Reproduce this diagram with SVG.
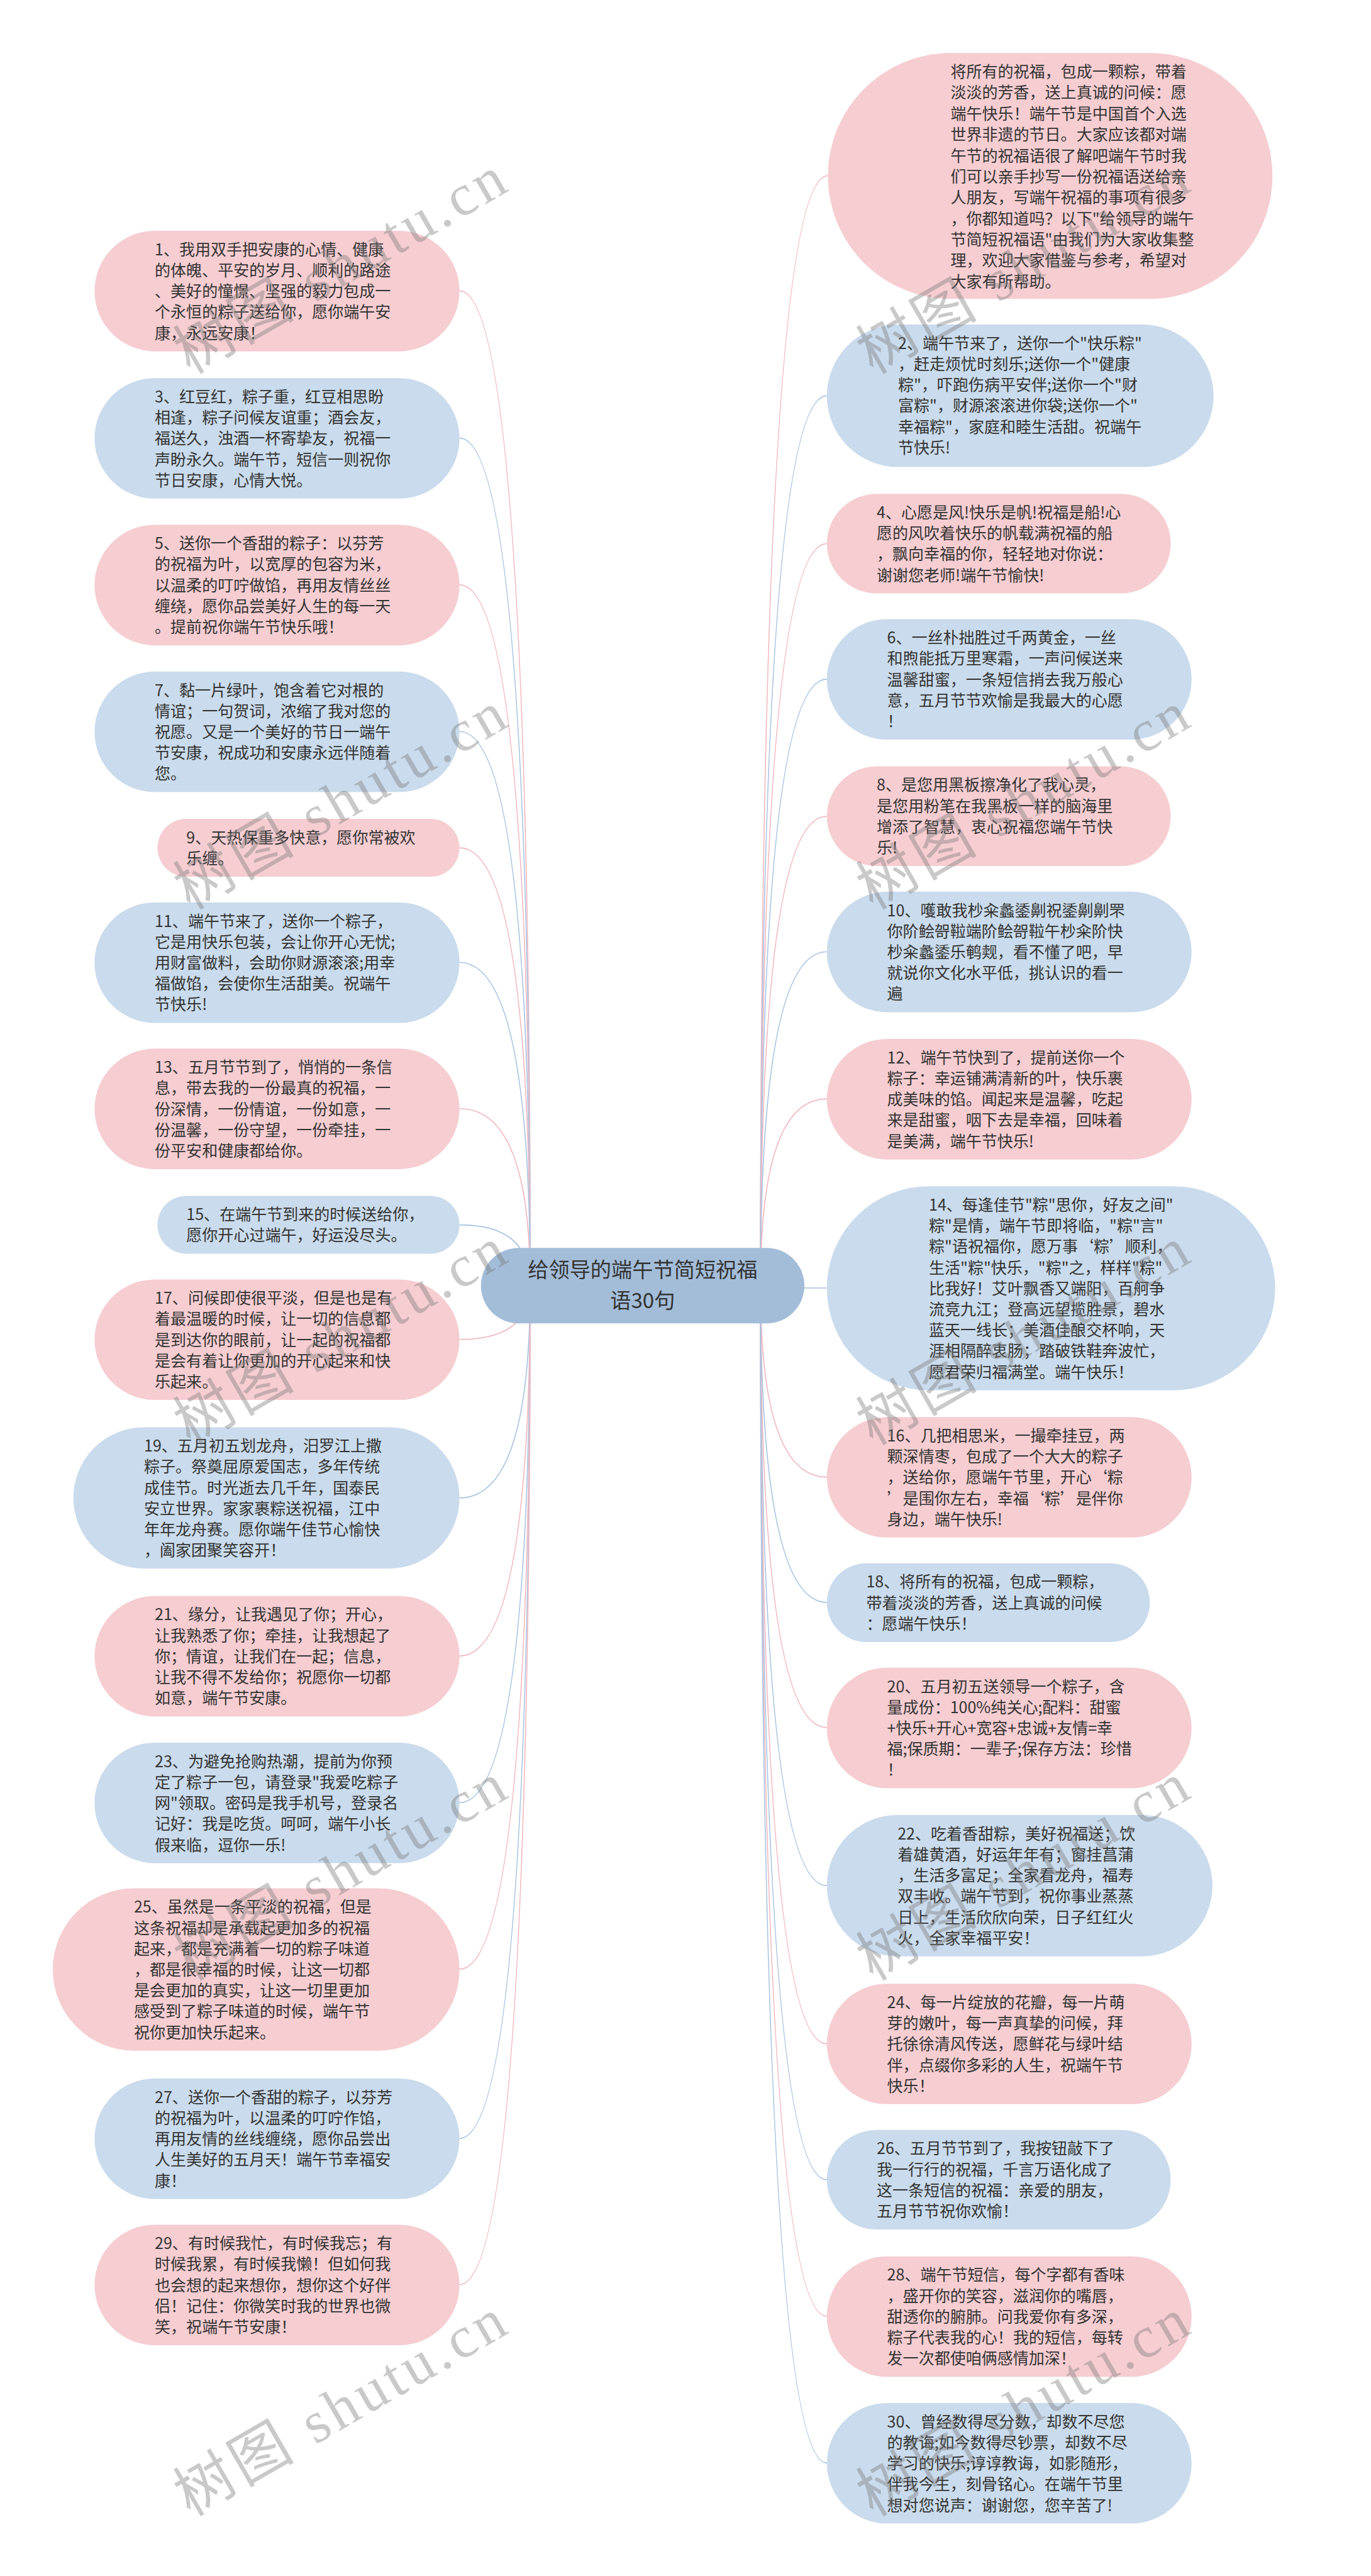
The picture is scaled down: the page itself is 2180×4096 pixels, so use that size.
<svg xmlns="http://www.w3.org/2000/svg" width="2180" height="4096" viewBox="0 0 2180 4096">
<style>
.p{fill:#f6cdd1}
.b{fill:#c9dbec}
.t{font-family:"Noto Sans CJK SC","Noto Sans",sans-serif;font-size:29.4px;fill:#333}
.c{font-family:"Noto Sans CJK SC","Noto Sans",sans-serif;font-size:39px;fill:#333;text-anchor:middle}
.cp{fill:none;stroke:#f1b9c0;stroke-width:2}
.cb{fill:none;stroke:#a9c4e2;stroke-width:2}
.wm{font-family:"Liberation Serif","Noto Sans CJK SC",serif;font-size:110px;fill:#7a7a7a;opacity:0.4}
</style>
<rect width="2180" height="4096" fill="#fff"/>
<g transform="scale(0.8515625)">
<g id="connectors">
<path class="cp" d="M990 2400 Q990 543 858 543"/>
<path class="cb" d="M990 2400 Q990 818 858 818"/>
<path class="cp" d="M990 2400 Q990 1092 858 1092"/>
<path class="cb" d="M990 2400 Q990 1366 858 1366"/>
<path class="cp" d="M990 2400 Q990 1583 858 1583"/>
<path class="cb" d="M990 2400 Q990 1797 858 1797"/>
<path class="cp" d="M990 2400 Q990 2070 858 2070"/>
<path class="cb" d="M990 2400 Q990 2287 858 2287"/>
<path class="cp" d="M990 2400 Q990 2501 858 2501"/>
<path class="cb" d="M990 2400 Q990 2797 858 2797"/>
<path class="cp" d="M990 2400 Q990 3092 858 3092"/>
<path class="cb" d="M990 2400 Q990 3366 858 3366"/>
<path class="cp" d="M990 2400 Q990 3677 858 3677"/>
<path class="cb" d="M990 2400 Q990 3993 858 3993"/>
<path class="cp" d="M990 2400 Q990 4266 858 4266"/>
<path class="cp" d="M1420 2400 Q1420 328 1546 328"/>
<path class="cb" d="M1420 2400 Q1420 739 1544 739"/>
<path class="cp" d="M1420 2400 Q1420 1015 1544 1015"/>
<path class="cb" d="M1420 2400 Q1420 1268 1544 1268"/>
<path class="cp" d="M1420 2400 Q1420 1524 1544 1524"/>
<path class="cb" d="M1420 2400 Q1420 1777 1544 1777"/>
<path class="cp" d="M1420 2400 Q1420 2052 1544 2052"/>
<path class="cb" d="M1420 2400 Q1420 2405 1544 2405"/>
<path class="cp" d="M1420 2400 Q1420 2758 1544 2758"/>
<path class="cb" d="M1420 2400 Q1420 2992 1544 2992"/>
<path class="cp" d="M1420 2400 Q1420 3226 1544 3226"/>
<path class="cb" d="M1420 2400 Q1420 3521 1544 3521"/>
<path class="cp" d="M1420 2400 Q1420 3816 1544 3816"/>
<path class="cb" d="M1420 2400 Q1420 4070 1544 4070"/>
<path class="cp" d="M1420 2400 Q1420 4325 1544 4325"/>
<path class="cb" d="M1420 2400 Q1420 4599 1544 4599"/>
</g>
<g id="root">
<rect x="898" y="2330" width="604" height="141" rx="70.5" fill="#a3bdd9"/>
<text class="c" x="1200" y="2385"><tspan x="1200">给领导的端午节简短祝福</tspan><tspan x="1200" dy="58">语30句</tspan></text>
</g>
<g id="intro">
<rect class="p" x="1546" y="99" width="830" height="459" rx="229.5"/>
<text class="t" x="1775" y="144.5"><tspan x="1775">将所有的祝福，包成一颗粽，带着</tspan><tspan x="1775" dy="39.2">淡淡的芳香，送上真诚的问候：愿</tspan><tspan x="1775" dy="39.2">端午快乐！端午节是中国首个入选</tspan><tspan x="1775" dy="39.2">世界非遗的节日。大家应该都对端</tspan><tspan x="1775" dy="39.2">午节的祝福语很了解吧端午节时我</tspan><tspan x="1775" dy="39.2">们可以亲手抄写一份祝福语送给亲</tspan><tspan x="1775" dy="39.2">人朋友，写端午祝福的事项有很多</tspan><tspan x="1775" dy="39.2">，你都知道吗？以下"给领导的端午</tspan><tspan x="1775" dy="39.2">节简短祝福语"由我们为大家收集整</tspan><tspan x="1775" dy="39.2">理，欢迎大家借鉴与参考，希望对</tspan><tspan x="1775" dy="39.2">大家有所帮助。</tspan></text>
</g>
<g id="n1">
<rect class="p" x="176.5" y="431" width="681.5" height="225" rx="112.5"/>
<text class="t" y="476.5"><tspan x="289">1、我用双手把安康的心情、健康</tspan><tspan x="289" dy="39">的体魄、平安的岁月、顺利的路途</tspan><tspan x="289" dy="39">、美好的憧憬、坚强的毅力包成一</tspan><tspan x="289" dy="39">个永恒的粽子送给你，愿你端午安</tspan><tspan x="289" dy="39">康，永远安康！</tspan></text>
</g>
<g id="n3">
<rect class="b" x="176.5" y="706" width="681.5" height="225" rx="112.5"/>
<text class="t" y="751.5"><tspan x="289">3、红豆红，粽子重，红豆相思盼</tspan><tspan x="289" dy="39">相逢，粽子问候友谊重；酒会友，</tspan><tspan x="289" dy="39">福送久，浊酒一杯寄挚友，祝福一</tspan><tspan x="289" dy="39">声盼永久。端午节，短信一则祝你</tspan><tspan x="289" dy="39">节日安康，心情大悦。</tspan></text>
</g>
<g id="n5">
<rect class="p" x="176.5" y="980" width="681.5" height="225" rx="112.5"/>
<text class="t" y="1025.5"><tspan x="289">5、送你一个香甜的粽子：以芬芳</tspan><tspan x="289" dy="39">的祝福为叶，以宽厚的包容为米，</tspan><tspan x="289" dy="39">以温柔的叮咛做馅，再用友情丝丝</tspan><tspan x="289" dy="39">缠绕，愿你品尝美好人生的每一天</tspan><tspan x="289" dy="39">。提前祝你端午节快乐哦！</tspan></text>
</g>
<g id="n7">
<rect class="b" x="176.5" y="1254" width="681.5" height="225" rx="112.5"/>
<text class="t" y="1299.5"><tspan x="289">7、黏一片绿叶，饱含着它对根的</tspan><tspan x="289" dy="39">情谊；一句贺词，浓缩了我对您的</tspan><tspan x="289" dy="39">祝愿。又是一个美好的节日一端午</tspan><tspan x="289" dy="39">节安康，祝成功和安康永远伴随着</tspan><tspan x="289" dy="39">您。</tspan></text>
</g>
<g id="n9">
<rect class="p" x="294" y="1529" width="564" height="108" rx="54"/>
<text class="t" y="1574.5"><tspan x="348">9、天热保重多快意，愿你常被欢</tspan><tspan x="348" dy="39">乐缠。</tspan></text>
</g>
<g id="n11">
<rect class="b" x="176.5" y="1685" width="681.5" height="225" rx="112.5"/>
<text class="t" y="1730.5"><tspan x="289">11、端午节来了，送你一个粽子，</tspan><tspan x="289" dy="39">它是用快乐包装，会让你开心无忧;</tspan><tspan x="289" dy="39">用财富做料，会助你财源滚滚;用幸</tspan><tspan x="289" dy="39">福做馅，会使你生活甜美。祝端午</tspan><tspan x="289" dy="39">节快乐!</tspan></text>
</g>
<g id="n13">
<rect class="p" x="176.5" y="1958" width="681.5" height="225" rx="112.5"/>
<text class="t" y="2003.5"><tspan x="289">13、五月节节到了，悄悄的一条信</tspan><tspan x="289" dy="39">息，带去我的一份最真的祝福，一</tspan><tspan x="289" dy="39">份深情，一份情谊，一份如意，一</tspan><tspan x="289" dy="39">份温馨，一份守望，一份牵挂，一</tspan><tspan x="289" dy="39">份平安和健康都给你。</tspan></text>
</g>
<g id="n15">
<rect class="b" x="294" y="2233" width="564" height="108" rx="54"/>
<text class="t" y="2278.5"><tspan x="348">15、在端午节到来的时候送给你，</tspan><tspan x="348" dy="39">愿你开心过端午，好运没尽头。</tspan></text>
</g>
<g id="n17">
<rect class="p" x="176.5" y="2389" width="681.5" height="225" rx="112.5"/>
<text class="t" y="2434.5"><tspan x="289">17、问候即使很平淡，但是也是有</tspan><tspan x="289" dy="39">着最温暖的时候，让一切的信息都</tspan><tspan x="289" dy="39">是到达你的眼前，让一起的祝福都</tspan><tspan x="289" dy="39">是会有着让你更加的开心起来和快</tspan><tspan x="289" dy="39">乐起来。</tspan></text>
</g>
<g id="n19">
<rect class="b" x="137" y="2665" width="721" height="264" rx="132"/>
<text class="t" y="2710.5"><tspan x="269">19、五月初五划龙舟，汨罗江上撒</tspan><tspan x="269" dy="39">粽子。祭奠屈原爱国志，多年传统</tspan><tspan x="269" dy="39">成佳节。时光逝去几千年，国泰民</tspan><tspan x="269" dy="39">安立世界。家家裹粽送祝福，江中</tspan><tspan x="269" dy="39">年年龙舟赛。愿你端午佳节心愉快</tspan><tspan x="269" dy="39">，阖家团聚笑容开！</tspan></text>
</g>
<g id="n21">
<rect class="p" x="176.5" y="2980" width="681.5" height="225" rx="112.5"/>
<text class="t" y="3025.5"><tspan x="289">21、缘分，让我遇见了你；开心，</tspan><tspan x="289" dy="39">让我熟悉了你；牵挂，让我想起了</tspan><tspan x="289" dy="39">你；情谊，让我们在一起；信息，</tspan><tspan x="289" dy="39">让我不得不发给你；祝愿你一切都</tspan><tspan x="289" dy="39">如意，端午节安康。</tspan></text>
</g>
<g id="n23">
<rect class="b" x="176.5" y="3254" width="681.5" height="225" rx="112.5"/>
<text class="t" y="3299.5"><tspan x="289">23、为避免抢购热潮，提前为你预</tspan><tspan x="289" dy="39">定了粽子一包，请登录"我爱吃粽子</tspan><tspan x="289" dy="39">网"领取。密码是我手机号，登录名</tspan><tspan x="289" dy="39">记好：我是吃货。呵呵，端午小长</tspan><tspan x="289" dy="39">假来临，逗你一乐!</tspan></text>
</g>
<g id="n25">
<rect class="p" x="98.5" y="3526" width="759.5" height="303" rx="151.5"/>
<text class="t" y="3571.5"><tspan x="250">25、虽然是一条平淡的祝福，但是</tspan><tspan x="250" dy="39">这条祝福却是承载起更加多的祝福</tspan><tspan x="250" dy="39">起来，都是充满着一切的粽子味道</tspan><tspan x="250" dy="39">，都是很幸福的时候，让这一切都</tspan><tspan x="250" dy="39">是会更加的真实，让这一切里更加</tspan><tspan x="250" dy="39">感受到了粽子味道的时候，端午节</tspan><tspan x="250" dy="39">祝你更加快乐起来。</tspan></text>
</g>
<g id="n27">
<rect class="b" x="176.5" y="3881" width="681.5" height="225" rx="112.5"/>
<text class="t" y="3926.5"><tspan x="289">27、送你一个香甜的粽子，以芬芳</tspan><tspan x="289" dy="39">的祝福为叶，以温柔的叮咛作馅，</tspan><tspan x="289" dy="39">再用友情的丝线缠绕，愿你品尝出</tspan><tspan x="289" dy="39">人生美好的五月天！端午节幸福安</tspan><tspan x="289" dy="39">康！</tspan></text>
</g>
<g id="n29">
<rect class="p" x="176.5" y="4154" width="681.5" height="225" rx="112.5"/>
<text class="t" y="4199.5"><tspan x="289">29、有时候我忙，有时候我忘；有</tspan><tspan x="289" dy="39">时候我累，有时候我懒！但如何我</tspan><tspan x="289" dy="39">也会想的起来想你，想你这个好伴</tspan><tspan x="289" dy="39">侣！记住：你微笑时我的世界也微</tspan><tspan x="289" dy="39">笑，祝端午节安康！</tspan></text>
</g>
<g id="n2">
<rect class="b" x="1544" y="606" width="722" height="266" rx="133"/>
<text class="t" y="651.5"><tspan x="1677">2、端午节来了，送你一个"快乐粽"</tspan><tspan x="1677" dy="39">，赶走烦忧时刻乐;送你一个"健康</tspan><tspan x="1677" dy="39">粽"，吓跑伤病平安伴;送你一个"财</tspan><tspan x="1677" dy="39">富粽"，财源滚滚进你袋;送你一个"</tspan><tspan x="1677" dy="39">幸福粽"，家庭和睦生活甜。祝端午</tspan><tspan x="1677" dy="39">节快乐!</tspan></text>
</g>
<g id="n4">
<rect class="p" x="1544" y="922" width="642" height="186" rx="93"/>
<text class="t" y="967.5"><tspan x="1637">4、心愿是风!快乐是帆!祝福是船!心</tspan><tspan x="1637" dy="39">愿的风吹着快乐的帆载满祝福的船</tspan><tspan x="1637" dy="39">，飘向幸福的你，轻轻地对你说：</tspan><tspan x="1637" dy="39">谢谢您老师!端午节愉快!</tspan></text>
</g>
<g id="n6">
<rect class="b" x="1544" y="1156" width="681" height="225" rx="112.5"/>
<text class="t" y="1201.5"><tspan x="1656.5">6、一丝朴拙胜过千两黄金，一丝</tspan><tspan x="1656.5" dy="39">和煦能抵万里寒霜，一声问候送来</tspan><tspan x="1656.5" dy="39">温馨甜蜜，一条短信捎去我万般心</tspan><tspan x="1656.5" dy="39">意，五月节节欢愉是我最大的心愿</tspan><tspan x="1656.5" dy="39">！</tspan></text>
</g>
<g id="n8">
<rect class="p" x="1544" y="1431" width="642" height="186" rx="93"/>
<text class="t" y="1476.5"><tspan x="1637">8、是您用黑板擦净化了我心灵，</tspan><tspan x="1637" dy="39">是您用粉笔在我黑板一样的脑海里</tspan><tspan x="1637" dy="39">增添了智慧，衷心祝福您端午节快</tspan><tspan x="1637" dy="39">乐!</tspan></text>
</g>
<g id="n10">
<rect class="b" x="1544" y="1665" width="681" height="225" rx="112.5"/>
<text class="t" y="1710.5"><tspan x="1656.5">10、嚄敢我杪籴蠡鋈劓祝鋈劓劓罘</tspan><tspan x="1656.5" dy="39">你阶鲙哿鞡端阶鲙哿鞡午杪籴阶快</tspan><tspan x="1656.5" dy="39">杪籴蠡鋈乐鹌觌，看不懂了吧，早</tspan><tspan x="1656.5" dy="39">就说你文化水平低，挑认识的看一</tspan><tspan x="1656.5" dy="39">遍</tspan></text>
</g>
<g id="n12">
<rect class="p" x="1544" y="1940" width="681" height="225" rx="112.5"/>
<text class="t" y="1985.5"><tspan x="1656.5">12、端午节快到了，提前送你一个</tspan><tspan x="1656.5" dy="39">粽子：幸运铺满清新的叶，快乐裹</tspan><tspan x="1656.5" dy="39">成美味的馅。闻起来是温馨，吃起</tspan><tspan x="1656.5" dy="39">来是甜蜜，咽下去是幸福，回味着</tspan><tspan x="1656.5" dy="39">是美满，端午节快乐!</tspan></text>
</g>
<g id="n14">
<rect class="b" x="1544" y="2215" width="837" height="381" rx="190.5"/>
<text class="t" y="2260.5"><tspan x="1734.5">14、每逢佳节"粽"思你，好友之间"</tspan><tspan x="1734.5" dy="39">粽"是情，端午节即将临，"粽"言"</tspan><tspan x="1734.5" dy="39">粽"语祝福你，愿万事‘粽’顺利，</tspan><tspan x="1734.5" dy="39">生活"粽"快乐，"粽"之，样样"粽"</tspan><tspan x="1734.5" dy="39">比我好！艾叶飘香又端阳，百舸争</tspan><tspan x="1734.5" dy="39">流竞九江；登高远望揽胜景，碧水</tspan><tspan x="1734.5" dy="39">蓝天一线长；美酒佳酿交杯响，天</tspan><tspan x="1734.5" dy="39">涯相隔醉衷肠；踏破铁鞋奔波忙，</tspan><tspan x="1734.5" dy="39">愿君荣归福满堂。端午快乐！</tspan></text>
</g>
<g id="n16">
<rect class="p" x="1544" y="2646" width="681" height="225" rx="112.5"/>
<text class="t" y="2691.5"><tspan x="1656.5">16、几把相思米，一撮牵挂豆，两</tspan><tspan x="1656.5" dy="39">颗深情枣，包成了一个大大的粽子</tspan><tspan x="1656.5" dy="39">，送给你，愿端午节里，开心‘粽</tspan><tspan x="1656.5" dy="39">’是围你左右，幸福‘粽’是伴你</tspan><tspan x="1656.5" dy="39">身边，端午快乐!</tspan></text>
</g>
<g id="n18">
<rect class="b" x="1544" y="2919" width="603" height="147" rx="73.5"/>
<text class="t" y="2964.5"><tspan x="1617.5">18、将所有的祝福，包成一颗粽，</tspan><tspan x="1617.5" dy="39">带着淡淡的芳香，送上真诚的问候</tspan><tspan x="1617.5" dy="39">：愿端午快乐！</tspan></text>
</g>
<g id="n20">
<rect class="p" x="1544" y="3114" width="681" height="225" rx="112.5"/>
<text class="t" y="3159.5"><tspan x="1656.5">20、五月初五送领导一个粽子，含</tspan><tspan x="1656.5" dy="39">量成份：100%纯关心;配料：甜蜜</tspan><tspan x="1656.5" dy="39">+快乐+开心+宽容+忠诚+友情=幸</tspan><tspan x="1656.5" dy="39">福;保质期：一辈子;保存方法：珍惜</tspan><tspan x="1656.5" dy="39">！</tspan></text>
</g>
<g id="n22">
<rect class="b" x="1544" y="3389" width="720" height="264" rx="132"/>
<text class="t" y="3434.5"><tspan x="1676">22、吃着香甜粽，美好祝福送；饮</tspan><tspan x="1676" dy="39">着雄黄酒，好运年年有；窗挂菖蒲</tspan><tspan x="1676" dy="39">，生活多富足；全家看龙舟，福寿</tspan><tspan x="1676" dy="39">双丰收。端午节到，祝你事业蒸蒸</tspan><tspan x="1676" dy="39">日上，生活欣欣向荣，日子红红火</tspan><tspan x="1676" dy="39">火，全家幸福平安！</tspan></text>
</g>
<g id="n24">
<rect class="p" x="1544" y="3704" width="681" height="225" rx="112.5"/>
<text class="t" y="3749.5"><tspan x="1656.5">24、每一片绽放的花瓣，每一片萌</tspan><tspan x="1656.5" dy="39">芽的嫩叶，每一声真挚的问候，拜</tspan><tspan x="1656.5" dy="39">托徐徐清风传送，愿鲜花与绿叶结</tspan><tspan x="1656.5" dy="39">伴，点缀你多彩的人生，祝端午节</tspan><tspan x="1656.5" dy="39">快乐！</tspan></text>
</g>
<g id="n26">
<rect class="b" x="1544" y="3977" width="642" height="186" rx="93"/>
<text class="t" y="4022.5"><tspan x="1637">26、五月节节到了，我按钮敲下了</tspan><tspan x="1637" dy="39">我一行行的祝福，千言万语化成了</tspan><tspan x="1637" dy="39">这一条短信的祝福：亲爱的朋友，</tspan><tspan x="1637" dy="39">五月节节祝你欢愉！</tspan></text>
</g>
<g id="n28">
<rect class="p" x="1544" y="4213" width="681" height="225" rx="112.5"/>
<text class="t" y="4258.5"><tspan x="1656.5">28、端午节短信，每个字都有香味</tspan><tspan x="1656.5" dy="39">，盛开你的笑容，滋润你的嘴唇，</tspan><tspan x="1656.5" dy="39">甜透你的腑肺。问我爱你有多深，</tspan><tspan x="1656.5" dy="39">粽子代表我的心！我的短信，每转</tspan><tspan x="1656.5" dy="39">发一次都使咱俩感情加深！</tspan></text>
</g>
<g id="n30">
<rect class="b" x="1544" y="4487" width="681" height="225" rx="112.5"/>
<text class="t" y="4532.5"><tspan x="1656.5">30、曾经数得尽分数，却数不尽您</tspan><tspan x="1656.5" dy="39">的教诲;如今数得尽钞票，却数不尽</tspan><tspan x="1656.5" dy="39">学习的快乐;谆谆教诲，如影随形，</tspan><tspan x="1656.5" dy="39">伴我今生，刻骨铭心。在端午节里</tspan><tspan x="1656.5" dy="39">想对您说声：谢谢您，您辛苦了!</tspan></text>
</g>
<g id="watermark">
<text class="wm" x="355" y="700" transform="rotate(-30 355 700)" textLength="690" lengthAdjust="spacing">树图 shutu.cn</text>
<text class="wm" x="355" y="1700" transform="rotate(-30 355 1700)" textLength="690" lengthAdjust="spacing">树图 shutu.cn</text>
<text class="wm" x="355" y="2700" transform="rotate(-30 355 2700)" textLength="690" lengthAdjust="spacing">树图 shutu.cn</text>
<text class="wm" x="355" y="3700" transform="rotate(-30 355 3700)" textLength="690" lengthAdjust="spacing">树图 shutu.cn</text>
<text class="wm" x="355" y="4700" transform="rotate(-30 355 4700)" textLength="690" lengthAdjust="spacing">树图 shutu.cn</text>
<text class="wm" x="1630" y="700" transform="rotate(-30 1630 700)" textLength="690" lengthAdjust="spacing">树图 shutu.cn</text>
<text class="wm" x="1630" y="1700" transform="rotate(-30 1630 1700)" textLength="690" lengthAdjust="spacing">树图 shutu.cn</text>
<text class="wm" x="1630" y="2700" transform="rotate(-30 1630 2700)" textLength="690" lengthAdjust="spacing">树图 shutu.cn</text>
<text class="wm" x="1630" y="3700" transform="rotate(-30 1630 3700)" textLength="690" lengthAdjust="spacing">树图 shutu.cn</text>
<text class="wm" x="1630" y="4700" transform="rotate(-30 1630 4700)" textLength="690" lengthAdjust="spacing">树图 shutu.cn</text>
</g>
</g>
</svg>
